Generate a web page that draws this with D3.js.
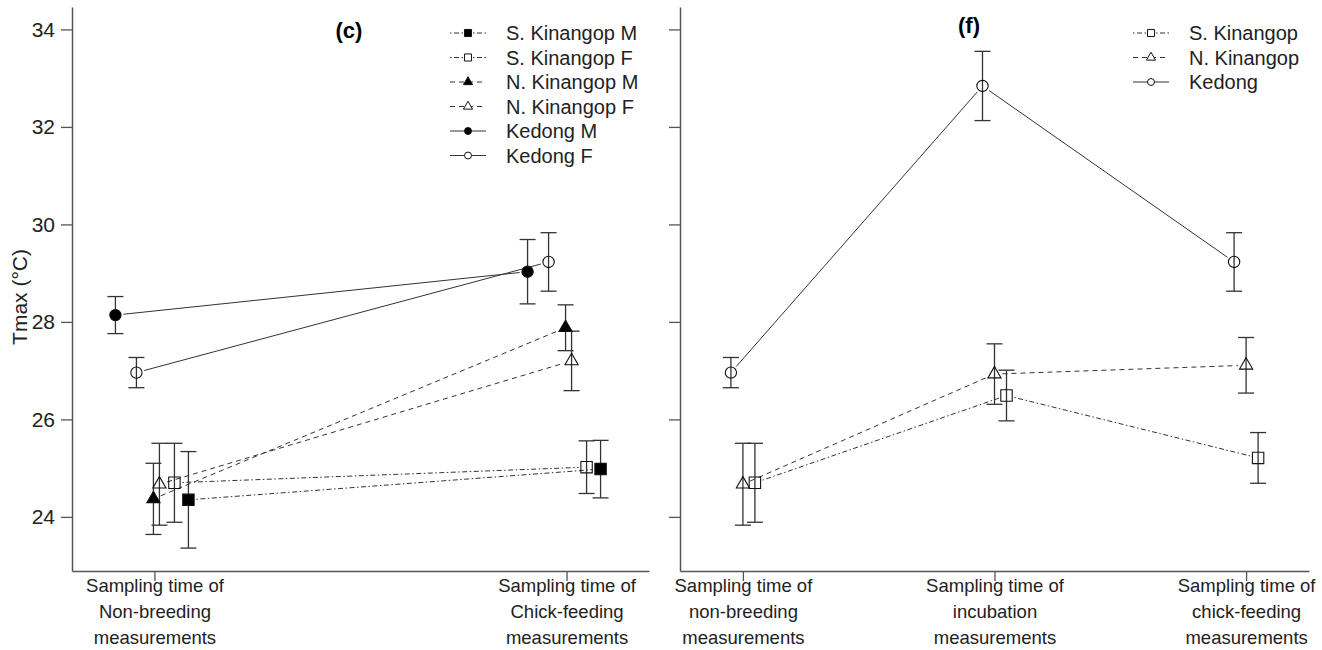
<!DOCTYPE html>
<html>
<head>
<meta charset="utf-8">
<script src="https://cdn.jsdelivr.net/npm/d3@7"></script>
<style>
  body { margin: 0; background: #fff; }
  svg { font-family: "Liberation Sans", Arial, sans-serif; }
</style>
</head>
<body>
<div id="chart"></div>
<script>
// Panel (c): sexes split
const groupsC = [
    ["Sampling time of", "Non-breeding", "measurements"],
    ["Sampling time of", "Chick-feeding", "measurements"]
];
const seriesC = ["S. Kinangop M", "S. Kinangop F", "N. Kinangop M", "N. Kinangop F", "Kedong M", "Kedong F"];
const meanC = [
    [24.35, 24.98],
    [24.70, 25.02],
    [24.37, 27.88],
    [24.67, 27.20],
    [28.14, 29.03],
    [26.96, 29.23]
];
const seC = [
    [0.99, 0.59],
    [0.81, 0.54],
    [0.73, 0.47],
    [0.84, 0.61],
    [0.38, 0.66],
    [0.31, 0.60]
];

// Panel (f): sites
const groupsF = [
    ["Sampling time of", "non-breeding", "measurements"],
    ["Sampling time of", "incubation", "measurements"],
    ["Sampling time of", "chick-feeding", "measurements"]
];
const seriesF = ["S. Kinangop", "N. Kinangop", "Kedong"];
const meanF = [
    [24.70, 26.49, 25.21],
    [24.67, 26.93, 27.11],
    [26.96, 32.84, 29.23]
];
const seF = [
    [0.81, 0.52, 0.52],
    [0.84, 0.62, 0.57],
    [0.31, 0.71, 0.60]
];

const yTicks = [24, 26, 28, 30, 32, 34];

// look of each series: symbol, filled, dash
const styleC = [
    { shape: "square", fill: true, dash: "1.5,2.5,5,2.5", dodge: 34 },
    { shape: "square", fill: false, dash: "1.5,2.5,5,2.5", dodge: 20 },
    { shape: "triangle", fill: true, dash: "5,4", dodge: -1 },
    { shape: "triangle", fill: false, dash: "5,4", dodge: 5 },
    { shape: "circle", fill: true, dash: null, dodge: -39 },
    { shape: "circle", fill: false, dash: null, dodge: -18 }
];
const styleF = [
    { shape: "square", fill: false, dash: "1.5,2.5,5,2.5", dodge: 12 },
    { shape: "triangle", fill: false, dash: "5,4", dodge: 0 },
    { shape: "circle", fill: false, dash: null, dodge: -12 }
];

const width = 1322, height = 650;
const svg = d3.select("#chart").append("svg")
    .attr("width", width)
    .attr("height", height);

const y = d3.scaleLinear().domain([22.89, 34.46]).range([571, 7]);

function symbolPath(shape, big) {
    let type = d3.symbolCircle, size;
    if (shape === "square") { type = d3.symbolSquare; size = big ? 130 : 50; }
    else if (shape === "triangle") { type = d3.symbolTriangle; size = big ? 75 : 36; }
    else { size = big ? 100 : 38; }
    return d3.symbol().type(type).size(size)();
}

function drawPanel(groups, series, means, ses, styles, xDomain, xRange, label, labelPos, legendX) {
    const x = d3.scaleLinear().domain(xDomain).range(xRange);
    const g = svg.append("g");

    // axes (L-shaped box like R bty="l")
    const yAxis = g.append("g")
        .attr("transform", `translate(${xRange[0]},0)`)
        .call(d3.axisLeft(y).tickValues(yTicks).tickSize(11).tickSizeOuter(0).tickPadding(6));
    const xAxis = g.append("g")
        .attr("transform", `translate(0,${y.range()[0]})`)
        .call(d3.axisBottom(x).tickValues(d3.range(1, groups.length + 1)).tickSize(10).tickSizeOuter(0).tickFormat(""));
    [yAxis, xAxis].forEach(a => {
        a.select(".domain").attr("stroke", "#555").attr("stroke-width", 1.5);
        a.selectAll(".tick line").attr("stroke", "#555").attr("stroke-width", 1.3);
    });
    yAxis.selectAll(".tick text").attr("font-size", 21).attr("fill", "#222");
    if (xRange[0] > 300) yAxis.selectAll(".tick text").remove();

    xAxis.selectAll(".tick").each(function(d, i) {
        const t = d3.select(this).append("text")
            .attr("fill", "#222")
            .attr("font-size", 18.5)
            .attr("text-anchor", "middle")
            .attr("y", 21);
        groups[i].forEach((line, k) => {
            t.append("tspan").attr("x", 0).attr("dy", k === 0 ? 0 : 26).text(line);
        });
    });

    const pts = (s) => means[s].map((m, i) => [x(i + 1) + styles[s].dodge, y(m)]);

    // connecting lines, with gaps around the points (R type="b")
    const gap = 8;
    series.forEach((name, s) => {
        const p = pts(s);
        for (let i = 0; i < p.length - 1; i++) {
            const [x0, y0] = p[i], [x1, y1] = p[i + 1];
            const len = Math.hypot(x1 - x0, y1 - y0);
            const ux = (x1 - x0) / len, uy = (y1 - y0) / len;
            g.append("line")
                .attr("x1", x0 + ux * gap).attr("y1", y0 + uy * gap)
                .attr("x2", x1 - ux * gap).attr("y2", y1 - uy * gap)
                .attr("stroke", "#333")
                .attr("stroke-width", 1)
                .attr("stroke-dasharray", styles[s].dash);
        }
    });

    // error bars
    series.forEach((name, s) => {
        means[s].forEach((m, i) => {
            const cx = x(i + 1) + styles[s].dodge;
            const top = y(m + ses[s][i]), bot = y(m - ses[s][i]);
            const eb = g.append("g").attr("stroke", "#333").attr("stroke-width", 1.3);
            eb.append("line").attr("x1", cx).attr("x2", cx).attr("y1", top).attr("y2", bot);
            eb.append("line").attr("x1", cx - 8).attr("x2", cx + 8).attr("y1", top).attr("y2", top);
            eb.append("line").attr("x1", cx - 8).attr("x2", cx + 8).attr("y1", bot).attr("y2", bot);
        });
    });

    // markers
    series.forEach((name, s) => {
        g.selectAll(null)
            .data(pts(s))
            .enter().append("path")
            .attr("d", symbolPath(styles[s].shape, true))
            .attr("transform", d => `translate(${d[0]},${d[1]})`)
            .attr("fill", styles[s].fill ? "#000" : "none")
            .attr("stroke", "#111")
            .attr("stroke-width", 1.1);
    });

    // panel label
    g.append("text")
        .attr("x", labelPos[0]).attr("y", labelPos[1])
        .attr("text-anchor", "middle")
        .attr("font-size", 22)
        .attr("font-weight", "bold")
        .text(label);

    // legend
    const leg = g.selectAll(".legend")
        .data(series)
        .enter().append("g")
        .attr("class", "legend")
        .attr("transform", (d, i) => `translate(${legendX},${33 + i * 24.5})`);
    leg.append("line")
        .attr("x1", 0).attr("x2", 36)
        .attr("stroke", "#333")
        .attr("stroke-width", 1)
        .attr("stroke-dasharray", (d, i) => styles[i].dash);
    leg.append("path")
        .attr("d", (d, i) => symbolPath(styles[i].shape, false))
        .attr("transform", "translate(18,0)")
        .attr("fill", (d, i) => styles[i].fill ? "#000" : "#fff")
        .attr("stroke", "#111")
        .attr("stroke-width", 1);
    leg.append("text")
        .attr("x", 56)
        .attr("dy", "0.35em")
        .attr("font-size", 20)
        .attr("fill", "#222")
        .text(d => d);
}

drawPanel(groupsC, seriesC, meanC, seC, styleC, [0.8, 2.2], [72, 649], "(c)", [349, 38], 450);
drawPanel(groupsF, seriesF, meanF, seF, styleF, [0.75, 3.25], [680, 1309], "(f)", [969, 33], 1133);

// y axis title
svg.append("text")
    .attr("transform", "translate(27,297) rotate(-90)")
    .attr("text-anchor", "middle")
    .attr("font-size", 21)
    .attr("fill", "#222")
    .text("Tmax (°C)");
</script>
</body>
</html>
